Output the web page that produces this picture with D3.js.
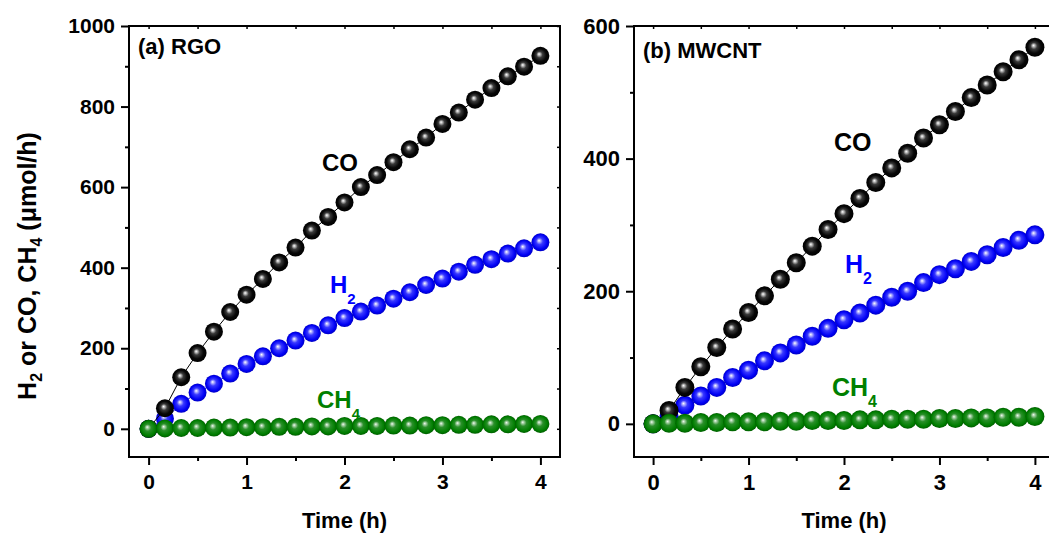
<!DOCTYPE html>
<html>
<head>
<meta charset="utf-8">
<script src="https://cdn.jsdelivr.net/npm/d3@7"></script>
<style>
body { margin: 0; background: #fff; }
svg { display: block; font-family: Arial, "Liberation Sans", sans-serif; font-weight: bold; }
</style>
</head>
<body>
<script>
// sampling times (h)
var time = [0, 0.167, 0.333, 0.5, 0.667, 0.833, 1, 1.167, 1.333, 1.5, 1.667, 1.833, 2,
    2.167, 2.333, 2.5, 2.667, 2.833, 3, 3.167, 3.333, 3.5, 3.667, 3.833, 4];

// (a) RGO
var rgoCO = [0, 51, 128, 188, 241, 290, 333, 372, 413, 450, 492, 526, 562, 600, 630, 662,
    694, 723, 757, 785, 817, 846, 875, 899, 926];
var rgoH2 = [0, 25, 62, 90, 112, 137, 161, 180, 200, 219, 238, 257, 275, 291, 306, 323,
    339, 357, 373, 390, 407, 421, 435, 448, 463];
var rgoCH4 = [0, 1, 2, 2, 3, 3, 4, 4, 5, 5, 6, 6, 7, 7, 7, 8, 8, 9, 9, 10, 10, 11, 11, 12, 12];

// (b) MWCNT
var mwCO = [0, 20, 55, 86, 115, 143, 168, 193, 218, 243, 268, 293, 317, 340, 364, 386,
    408, 431, 451, 471, 492, 511, 531, 549, 568];
var mwH2 = [0, 12, 28, 42, 55, 70, 81, 95, 107, 119, 132, 144, 157, 167, 179, 191,
    200, 213, 225, 234, 245, 255, 266, 277, 285];
var mwCH4 = [0, 1, 1, 2, 2, 3, 3, 3, 4, 4, 5, 5, 5, 6, 6, 7, 7, 7, 8, 8, 9, 9, 10, 10, 11];

var xTicks = [0, 1, 2, 3, 4];
var xMinor = [0.5, 1.5, 2.5, 3.5];
var rgoTicks = [0, 200, 400, 600, 800, 1000];
var rgoMinor = [100, 300, 500, 700, 900];
var mwTicks = [0, 200, 400, 600];
var mwMinor = [100, 300, 500];

var w = 1049,
    h = 536,
    plotTop = 26,
    plotBottom = 457;

var svg = d3.select("body").append("svg")
    .attr("width", w)
    .attr("height", h);

var defs = svg.append("defs");

function ball(id, stops) {
    var grad = defs.append("radialGradient")
        .attr("id", id)
        .attr("cx", "50%").attr("cy", "50%").attr("r", "50%")
        .attr("fx", "42%").attr("fy", "40%");
    stops.forEach(function(s) {
        grad.append("stop").attr("offset", s[0]).attr("stop-color", s[1]);
    });
}
ball("ballK", [[0, "#ffffff"], [0.13, "#bdbdbd"], [0.35, "#3a3a3a"], [0.7, "#070707"], [1, "#000"]]);
ball("ballB", [[0, "#ffffff"], [0.14, "#b4b4ff"], [0.38, "#3838ff"], [0.8, "#0000f4"], [1, "#0000c4"]]);
ball("ballG", [[0, "#f2fff2"], [0.14, "#a6cfa6"], [0.38, "#2a8f2a"], [0.8, "#007e00"], [1, "#005e00"]]);

function styleAxis(g, size) {
    g.select(".domain").remove();
    g.selectAll(".tick line").attr("stroke", "#000").attr("stroke-width", 2);
    g.selectAll("text")
        .attr("fill", "#000")
        .style("font-size", size + "px")
        .style("font-family", "Arial, 'Liberation Sans', sans-serif")
        .style("font-weight", "bold");
}

function label(g, x, y, size, color, main, sub) {
    var t = g.append("text")
        .attr("x", x)
        .attr("y", y)
        .attr("fill", color)
        .style("font-size", size + "px");
    t.append("tspan").text(main);
    if (sub) {
        t.append("tspan")
            .attr("dy", size * 0.45)
            .style("font-size", Math.round(size * 0.64) + "px")
            .text(sub);
    }
}

function drawPanel(p) {
    var xScale = d3.scaleLinear().domain([-0.2, 4.2]).range([p.left, p.right]);
    var yScale = d3.scaleLinear().domain(p.yDomain).range([plotBottom, plotTop]);
    var g = svg.append("g");

    var line = d3.line()
        .x(function(d, i) { return xScale(time[i]); })
        .y(function(d) { return yScale(d); });

    p.series.forEach(function(s) {
        g.append("path")
            .datum(s.values)
            .attr("fill", "none")
            .attr("stroke", s.line)
            .attr("stroke-width", 1)
            .attr("d", line);
        g.selectAll(null)
            .data(s.values)
            .enter()
            .append("circle")
            .attr("cx", function(d, i) { return xScale(time[i]); })
            .attr("cy", function(d) { return yScale(d); })
            .attr("r", p.r)
            .attr("fill", "url(#" + s.ball + ")");
    });

    // frame
    g.append("rect")
        .attr("x", p.left)
        .attr("y", plotTop)
        .attr("width", p.right - p.left)
        .attr("height", plotBottom - plotTop)
        .attr("fill", "none")
        .attr("stroke", "#000")
        .attr("stroke-width", 2);

    g.append("g")
        .attr("transform", "translate(0," + plotBottom + ")")
        .call(d3.axisBottom(xScale).tickValues(xTicks).tickSize(8).tickPadding(9).tickFormat(d3.format("d")))
        .call(styleAxis, p.tickFont);
    g.append("g")
        .attr("transform", "translate(0," + plotBottom + ")")
        .call(d3.axisBottom(xScale).tickValues(xMinor).tickSize(4).tickFormat(""))
        .call(styleAxis, p.tickFont);
    g.append("g")
        .attr("transform", "translate(" + p.left + ",0)")
        .call(d3.axisLeft(yScale).tickValues(p.yTicks).tickSize(8).tickPadding(6).tickFormat(d3.format("d")))
        .call(styleAxis, p.tickFont);
    g.append("g")
        .attr("transform", "translate(" + p.left + ",0)")
        .call(d3.axisLeft(yScale).tickValues(p.yMinor).tickSize(4).tickFormat(""))
        .call(styleAxis, p.tickFont);
    // small inward ticks on the mirrored top and right axes
    g.append("g")
        .attr("transform", "translate(0," + plotTop + ")")
        .call(d3.axisTop(xScale).tickValues(xTicks.concat(xMinor)).tickSize(-3).tickFormat(""))
        .call(styleAxis, p.tickFont)
        .selectAll("line").attr("stroke-width", 1.5);
    g.append("g")
        .attr("transform", "translate(" + p.right + ",0)")
        .call(d3.axisRight(yScale).tickValues(p.yTicks.concat(p.yMinor)).tickSize(-3).tickFormat(""))
        .call(styleAxis, p.tickFont)
        .selectAll("line").attr("stroke-width", 1.5);

    g.append("text")
        .attr("x", (p.left + p.right) / 2)
        .attr("y", 528)
        .attr("text-anchor", "middle")
        .style("font-size", p.titleFont + "px")
        .text("Time (h)");

    label(g, p.left + 9, p.nameY, p.titleFont, "#000", p.name);
    p.labels.forEach(function(l) {
        label(g, l.x, l.y, l.size, l.color, l.main, l.sub);
    });
}

drawPanel({
    left: 129,
    right: 560,
    yDomain: [-70, 1000],
    yTicks: rgoTicks,
    yMinor: rgoMinor,
    r: 9,
    tickFont: 21,
    titleFont: 22,
    name: "(a) RGO",
    nameY: 54,
    series: [
        { values: rgoH2, ball: "ballB", line: "#0000ff" },
        { values: rgoCO, ball: "ballK", line: "#000" },
        { values: rgoCH4, ball: "ballG", line: "#008000" }
    ],
    labels: [
        { x: 322, y: 171, size: 24, color: "#000", main: "CO" },
        { x: 330, y: 293, size: 24, color: "#0000ff", main: "H", sub: "2" },
        { x: 317, y: 408, size: 24, color: "#008000", main: "CH", sub: "4" }
    ]
});

drawPanel({
    left: 634,
    right: 1054,
    yDomain: [-50, 600],
    yTicks: mwTicks,
    yMinor: mwMinor,
    r: 9.5,
    tickFont: 22,
    titleFont: 22,
    name: "(b) MWCNT",
    nameY: 58,
    series: [
        { values: mwH2, ball: "ballB", line: "#0000ff" },
        { values: mwCO, ball: "ballK", line: "#000" },
        { values: mwCH4, ball: "ballG", line: "#008000" }
    ],
    labels: [
        { x: 834, y: 151, size: 25, color: "#000", main: "CO" },
        { x: 845, y: 273, size: 25, color: "#0000ff", main: "H", sub: "2" },
        { x: 832, y: 396, size: 25, color: "#008000", main: "CH", sub: "4" }
    ]
});

// shared y-axis title
var yTitle = svg.append("text")
    .attr("transform", "translate(36,266) rotate(-90)")
    .attr("text-anchor", "middle")
    .attr("fill", "#000")
    .style("font-size", "25px");
yTitle.append("tspan").text("H");
yTitle.append("tspan").attr("dy", 6).style("font-size", "16px").text("2");
yTitle.append("tspan").attr("dy", -6).text(" or CO, CH");
yTitle.append("tspan").attr("dy", 6).style("font-size", "16px").text("4");
yTitle.append("tspan").attr("dy", -6).text(" (μmol/h)");
</script>
</body>
</html>
